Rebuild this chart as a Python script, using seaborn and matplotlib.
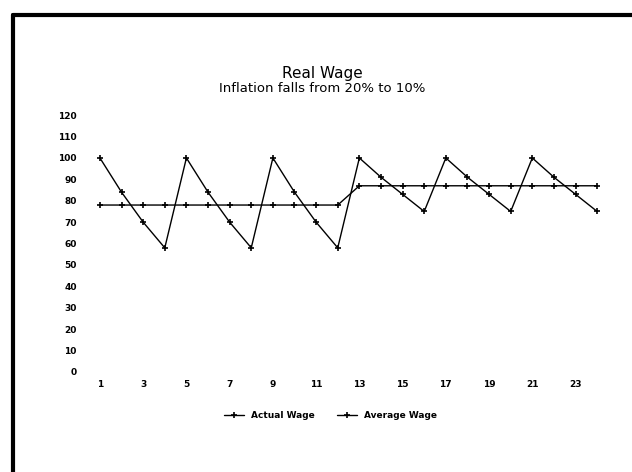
import matplotlib
matplotlib.use("Agg")
import matplotlib.pyplot as plt
from matplotlib.lines import Line2D
import pandas as pd
import seaborn as sns

period = list(range(1, 25))
actual_wage = [100, 84, 70, 58, 100, 84, 70, 58, 100, 84, 70, 58,
               100, 91, 83, 75, 100, 91, 83, 75, 100, 91, 83, 75]
average_wage = [78, 78, 78, 78, 78, 78, 78, 78, 78, 78, 78, 78,
                87, 87, 87, 87, 87, 87, 87, 87, 87, 87, 87, 87]

df = pd.DataFrame({
    "Period": period * 2,
    "Wage": actual_wage + average_wage,
    "Series": ["Actual Wage"] * 24 + ["Average Wage"] * 24,
})

sns.set_style("white")
plt.rcParams["font.family"] = ["DejaVu Sans"]
plt.rcParams["text.color"] = "black"
plt.rcParams["xtick.color"] = "black"
plt.rcParams["ytick.color"] = "black"

fig = plt.figure(figsize=(6.32, 4.72), dpi=100)
ax = fig.add_axes([0.141, 0.212, 0.821, 0.544])

sns.lineplot(data=df, x="Period", y="Wage", hue="Series",
             palette=["black", "black"], marker="+", markersize=4.5,
             markeredgewidth=1.2, markeredgecolor="black",
             linewidth=1.0, ax=ax, legend=True)

ax.set_xlim(0.5, 24.5)
ax.set_ylim(0, 120)
ax.set_xticks(range(1, 24, 2))
ax.set_yticks(range(0, 121, 10))
ax.tick_params(axis="both", length=0, labelsize=6.5, colors="black")
ax.tick_params(axis="y", pad=9)
ax.tick_params(axis="x", pad=6)
for lbl in ax.get_xticklabels() + ax.get_yticklabels():
    lbl.set_fontweight("bold")
ax.set_xlabel("")
ax.set_ylabel("")
sns.despine(ax=ax, left=True, bottom=True)

leg = ax.legend(loc="upper center", bbox_to_anchor=(0.465, -0.12), ncol=2,
                frameon=False, fontsize=6.5, handlelength=2.2, columnspacing=2.5)
for t in leg.get_texts():
    t.set_fontweight("bold")
    t.set_color("black")

fig.text(0.51, 0.845, "Real Wage", ha="center", va="center", fontsize=11,
         color="black")
fig.text(0.51, 0.813, "Inflation falls from 20% to 10%", ha="center",
         va="center", fontsize=9.5, color="black", fontweight="medium")

# scanned page frame
fig.add_artist(Line2D([0.021, 1.0], [0.969, 0.969], color="black", lw=3,
                      transform=fig.transFigure))
fig.add_artist(Line2D([0.021, 0.021], [0.0, 0.969], color="black", lw=3,
                      transform=fig.transFigure))

fig.savefig("out.png", dpi=100)
